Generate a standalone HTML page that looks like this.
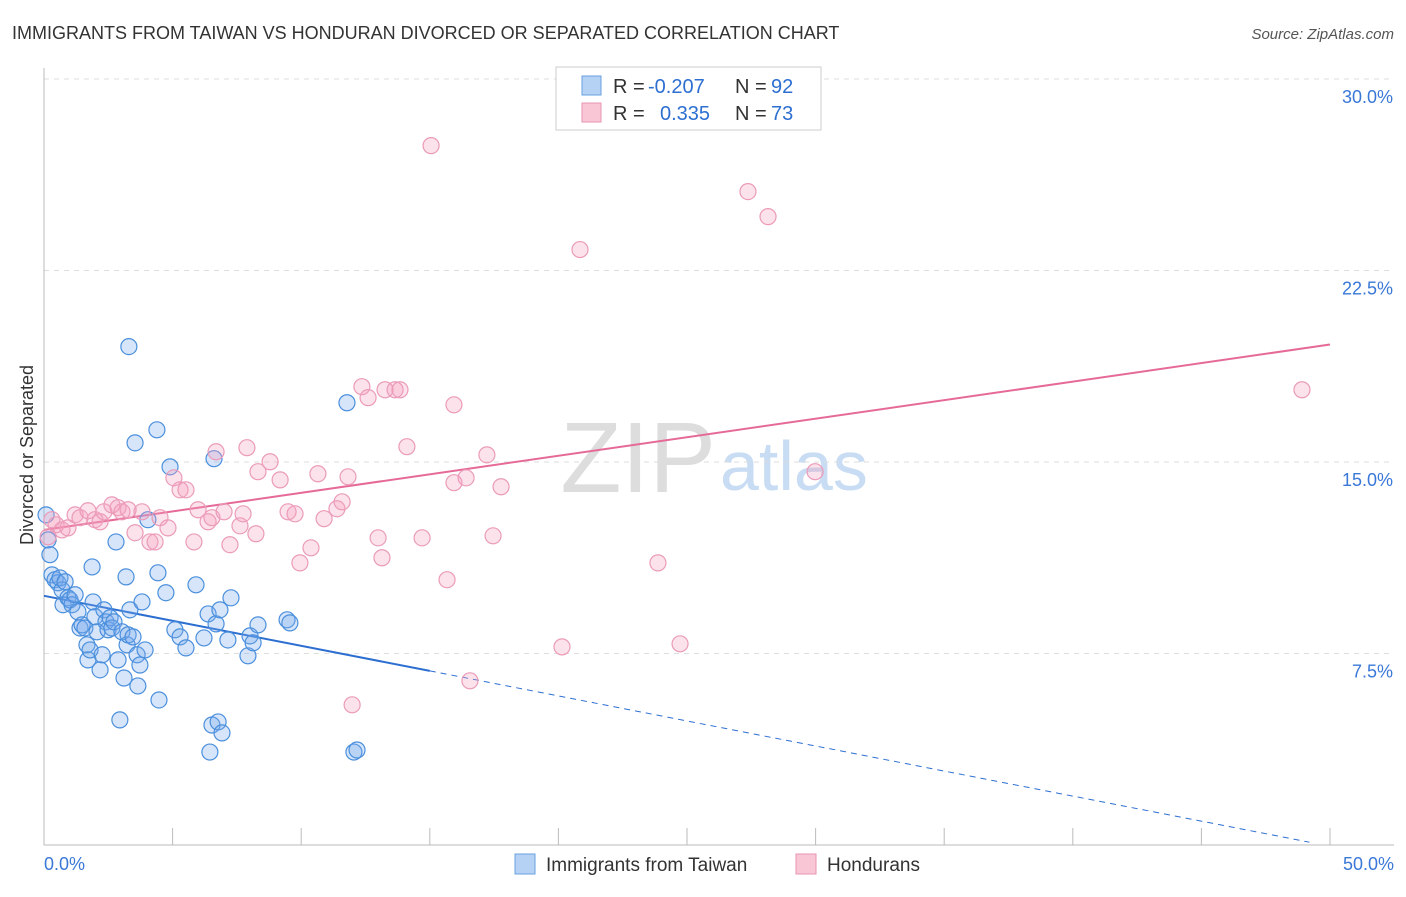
<!DOCTYPE html>
<html><head><meta charset="utf-8"><style>
body{margin:0;background:#fff;font-family:"Liberation Sans",sans-serif;}
svg text{font-family:"Liberation Sans",sans-serif;}
</style></head><body>
<svg id="chart" width="1406" height="892" xmlns="http://www.w3.org/2000/svg">
<text x="12" y="39" font-size="18" fill="#333">IMMIGRANTS FROM TAIWAN VS HONDURAN DIVORCED OR SEPARATED CORRELATION CHART</text>
<text x="1394" y="39" font-size="15" fill="#555" font-style="italic" text-anchor="end">Source: ZipAtlas.com</text>
<text x="716" y="492" font-size="100" fill="#ddd" text-anchor="end" font-family="Liberation Serif">ZIP</text>
<text x="720" y="490" font-size="70" fill="#c8dcf3">atlas</text>
<text x="33" y="455" font-size="18" fill="#333" text-anchor="middle" transform="rotate(-90 33 455)">Divorced or Separated</text>
<g id="grid"></g><g id="ticks"></g><g id="trends"></g><g id="pts"></g>
<g>
<rect x="556" y="67" width="265" height="63" fill="#fff" stroke="#ccc"/>
<rect x="582" y="76" width="19" height="19" fill="#b5d2f5" stroke="#6aa0e0"/>
<rect x="582" y="103" width="19" height="19" fill="#f9c6d6" stroke="#e896b4"/>
<text x="613" y="93" font-size="20" fill="#333">R =</text>
<text x="648" y="93" font-size="20" fill="#2d6fd1">-0.207</text>
<text x="735" y="93" font-size="20" fill="#333">N =</text>
<text x="771" y="93" font-size="20" fill="#2d6fd1">92</text>
<text x="613" y="120" font-size="20" fill="#333">R =</text>
<text x="660" y="120" font-size="20" fill="#2d6fd1">0.335</text>
<text x="735" y="120" font-size="20" fill="#333">N =</text>
<text x="771" y="120" font-size="20" fill="#2d6fd1">73</text>
</g>
<g>
<rect x="515" y="854" width="20" height="20" fill="#b5d2f5" stroke="#6aa0e0"/>
<text x="546" y="871" font-size="19" fill="#333">Immigrants from Taiwan</text>
<rect x="796" y="854" width="20" height="20" fill="#f9c6d6" stroke="#e896b4"/>
<text x="827" y="871" font-size="19" fill="#333">Hondurans</text>
</g>
</svg>
<script>
const yTicks=[7.5,15,22.5,30];
const yTickLabels=["7.5%","15.0%","22.5%","30.0%"];
const xTicks=[0,5,10,15,20,25,30,35,40,45,50];
const taiwanX=[0.08,0.16,0.23,0.31,0.43,0.54,0.62,0.70,0.82,0.74,0.93,1.01,1.09,1.21,1.32,1.40,1.48,1.59,1.67,1.71,1.79,1.87,1.91,1.98,2.06,2.18,2.26,2.33,2.41,2.49,2.57,2.64,2.72,2.80,2.88,2.95,3.03,3.11,3.19,3.23,3.27,3.30,3.34,3.46,3.54,3.62,3.65,3.73,3.81,3.93,4.04,4.39,4.43,4.47,4.74,4.90,5.09,5.29,5.52,5.91,6.22,6.38,6.45,6.53,6.61,6.69,6.77,6.84,6.92,7.15,7.27,7.93,8.01,8.13,8.32,9.45,9.56,11.78,12.05,12.17];
const taiwanY=[12.93,11.95,11.37,10.58,10.39,10.27,10.46,9.99,10.31,9.41,9.68,9.60,9.41,9.80,9.13,8.50,8.62,8.50,7.84,7.25,7.64,10.89,9.52,8.94,8.35,6.86,7.45,9.21,8.74,8.43,8.90,8.50,8.74,11.87,7.25,4.90,8.35,6.54,10.50,7.84,8.23,19.52,9.21,8.15,15.75,7.45,6.23,7.05,9.52,7.64,12.74,16.26,10.66,5.68,9.88,14.81,8.43,8.15,7.72,10.19,8.11,9.05,3.64,4.70,15.13,8.66,4.82,9.21,4.39,8.03,9.68,7.41,8.19,7.92,8.62,8.82,8.70,17.32,3.64,3.72];
const hondX=[0.16,0.31,0.47,0.70,0.93,1.21,1.40,1.71,1.98,2.18,2.33,2.64,2.88,3.03,3.27,3.54,3.81,4.12,4.32,4.51,4.82,5.05,5.29,5.52,5.83,5.99,6.38,6.53,6.69,7.00,7.23,7.62,7.74,7.89,8.24,8.32,8.79,9.18,9.49,9.76,9.95,10.38,10.65,10.89,11.39,11.59,11.82,11.98,12.36,12.60,12.99,13.14,13.26,13.65,13.84,14.11,14.70,15.05,15.67,15.94,15.94,16.41,16.56,17.22,17.46,17.77,20.14,20.84,23.87,24.73,27.37,28.15,29.98,48.91];
const hondY=[12.07,12.74,12.54,12.34,12.42,12.93,12.82,13.09,12.74,12.66,13.05,13.32,13.21,13.05,13.13,12.23,13.05,11.87,11.87,12.82,12.42,14.38,13.91,13.91,11.87,13.13,12.66,12.82,15.40,13.05,11.76,12.50,12.97,15.56,12.19,14.62,15.01,14.30,13.05,12.97,11.05,11.64,14.54,12.78,13.17,13.44,14.42,5.49,17.95,17.52,12.03,11.25,17.83,17.83,17.83,15.60,12.03,27.39,10.39,17.24,14.19,14.38,6.43,15.28,12.11,14.03,7.76,23.32,11.05,7.88,25.59,24.61,14.62,17.83];
const taiwanTrend=[[0,9.76],[15,6.82],[49.2,0.11]];
const hondTrend=[[0,12.34],[50,19.6]];
const NS="http://www.w3.org/2000/svg";
const X=v=>44+v/50*1286, Y=v=>845-v/30*766;
function mk(t,a,p){const e=document.createElementNS(NS,t);for(const k in a)e.setAttribute(k,a[k]);document.getElementById(p).appendChild(e);return e;}
yTicks.forEach((t,i)=>{
 const l=mk('line',{x1:44,x2:1394,y1:Y(t),y2:Y(t),stroke:'#ddd','stroke-dasharray':'5,5'},'grid');
 
 
 const tx=mk('text',{x:1393,y:Y(t)+24,'font-size':18,fill:'#3a78d8','text-anchor':'end'},'ticks');
 tx.textContent=yTickLabels[i];
 
 
});
const ax=mk('line',{x1:44,x2:44,y1:68,y2:845,stroke:'#bbb'},'grid');


const bx=mk('line',{x1:44,x2:1394,y1:845,y2:845,stroke:'#bbb'},'grid');


xTicks.forEach(t=>{const l=mk('line',{x1:X(t),x2:X(t),y1:828,y2:845,stroke:'#bbb'},'ticks');
 
 });
[["0.0%",44,'start'],["50.0%",1394,'end']].forEach(([s,x,a])=>{const t=mk('text',{x:x,y:870,'font-size':18,fill:'#3a78d8','text-anchor':a},'ticks');t.textContent=s;
 
 });
function pts(xs,ys,fill,stroke,name){xs.forEach((x,i)=>{const c=mk('circle',{cx:X(x),cy:Y(ys[i]),r:8,fill:fill,stroke:stroke,'stroke-width':1.2},'pts');
 
 });}
pts(taiwanX,taiwanY,'rgba(120,170,235,0.3)','#4a8fdd','taiwan-point');
pts(hondX,hondY,'rgba(245,160,190,0.3)','#eb9bb8','honduran-point');
const t1=mk('line',{x1:X(taiwanTrend[0][0]),y1:Y(taiwanTrend[0][1]),x2:X(taiwanTrend[1][0]),y2:Y(taiwanTrend[1][1]),stroke:'#2d6fd1','stroke-width':2},'trends');


const t2=mk('line',{x1:X(taiwanTrend[1][0]),y1:Y(taiwanTrend[1][1]),x2:X(taiwanTrend[2][0]),y2:Y(taiwanTrend[2][1]),stroke:'#2d6fd1','stroke-width':1,'stroke-dasharray':'6,5'},'trends');


const t3=mk('line',{x1:X(hondTrend[0][0]),y1:Y(hondTrend[0][1]),x2:X(hondTrend[1][0]),y2:Y(hondTrend[1][1]),stroke:'#e66a98','stroke-width':2},'trends');


</script>
</body></html>
